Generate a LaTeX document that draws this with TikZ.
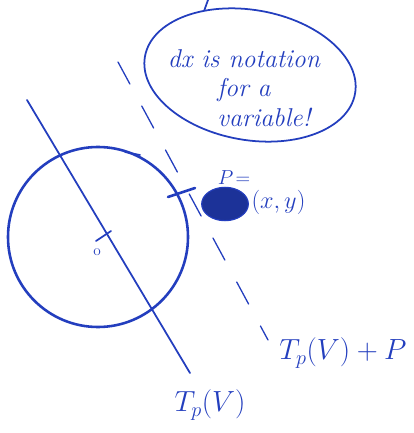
\documentclass[tikz,border=0pt]{standalone}
\usepackage{tikz}
\usetikzlibrary{positioning, calc, shapes.geometric}
\definecolor{ink}{RGB}{35,62,190}
\tikzset{
    pen/.style={
        draw=ink,
        line width=2.2pt,
        line cap=round
    },
    tanline/.style={
        draw=ink,
        line width=1.5pt,
        line cap=round
    },
    dashline/.style={
        draw=ink,
        line width=1.1pt,
        line cap=round,
        dash pattern=on 0.75cm off 0.75cm
    },
    scribble/.style={
        text=ink,
        font=\fontsize{22}{27}\selectfont\itshape,
        inner sep=0pt
    },
    label/.style={
        text=ink,
        font=\fontsize{24}{28}\selectfont,
        inner sep=0pt
    },
    bubble/.style={
        ellipse,
        draw=ink,
        line width=1.5pt,
        minimum width=6.4cm,
        minimum height=3.9cm
    },
    blob/.style={
        ellipse,
        fill=ink!80!black,
        draw=ink,
        line width=1pt,
        minimum width=1.4cm,
        minimum height=1.0cm
    }
}

\begin{document}
\begin{tikzpicture}[x=0.03cm, y=-0.03cm]
\useasboundingbox (0,0) rectangle (413,433);

% the circle V and its centre
\node[circle, pen, minimum size=5.4cm, inner sep=0pt] (disc) at (98,237) {};
\node[text=ink, font=\fontsize{13}{15}\selectfont, inner sep=0pt] (orig) at (97,252) {o};
\draw[tanline] (96,241) -- (111,231);
\draw[tanline] (125,152) -- (140,155);

% tangent line through the origin
\coordinate (tanA) at (27,100);
\coordinate (tanB) at (190,373);
\draw[tanline] (tanA) -- (tanB);

% shifted tangent line (dashed)
\coordinate (dashA) at (118,62);
\coordinate (dashB) at (268,340);
\draw[dashline] (dashA) -- (dashB);

% the point P
\node[blob] (pt) at (225,204) {};
\node[scribble, font=\fontsize{18}{20}\selectfont] (plab) at (234,178) {$P\!=$};
\node[scribble, right=2pt of pt, yshift=1pt] (xy) {$(x,y)$};
\draw[pen] (168,197) -- (195,188);

% speech bubble
\node[bubble, rotate=-10] (cloud) at (250,75) {};
\node[scribble, align=center] (note) at (244,88) {dx is notation\\[-2pt] for a\\[-2pt] \hspace{1.2cm}variable!};
\coordinate (tail) at (208,0);
\draw[tanline] (tail) -- (cloud.135);

% labels
\node[label] (shifted) at (343,353) {$T_p(V)+P$};
\node[label] (tangent) at (210,405) {$T_p(V)$};
\end{tikzpicture}
\end{document}
